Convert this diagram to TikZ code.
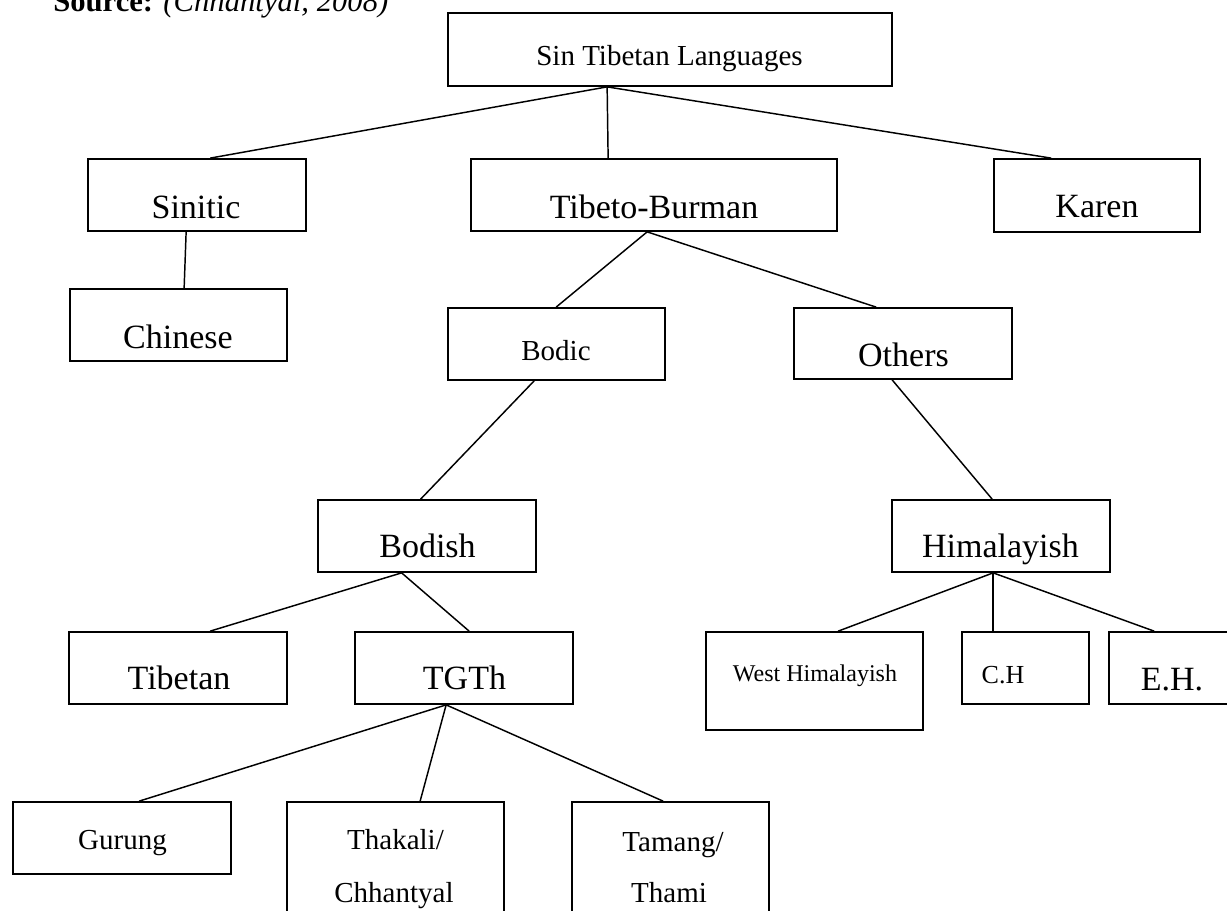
\documentclass[tikz,border=0pt]{standalone}
\usepackage{fontspec}
\setmainfont{Liberation Serif}
\usetikzlibrary{calc}

\tikzset{
  langbox/.style 2 args={draw, line width=1.3pt, inner sep=0pt,
    minimum width=#1*0.75pt, minimum height=#2*0.75pt},
  bigtext/.style={anchor=base, inner sep=0pt, font=\fontsize{25.5pt}{30pt}\selectfont},
  smalltext/.style={anchor=base, inner sep=0pt, font=\fontsize{21.75pt}{26pt}\selectfont},
  link/.style={line width=1.1pt}
}

\begin{document}
\begin{tikzpicture}[x=0.75pt,y=0.75pt,yscale=-1]
	\useasboundingbox (0,0) rectangle (1227,910);
	\clip (0,0) rectangle (1227,910);
	
	% Source line (cut at the top)
	\node [anchor=base west, inner sep=0pt, font=\fontsize{23pt}{27pt}\selectfont] (src) at (53,12) {\textbf{Source:} \textit{(Chhantyal, 2008)}};
	
	% Boxes
	\node [langbox={444}{73}] (sin) at (670,49.5) {};
	\node [langbox={218}{72}] (sinitic) at (197,195) {};
	\node [langbox={366}{72}] (tb) at (654,195) {};
	\node [langbox={206}{73}] (karen) at (1097,195.5) {};
	\node [langbox={217}{72}] (chinese) at (178.5,325) {};
	\node [langbox={217}{72}] (bodic) at (556.5,344) {};
	\node [langbox={218}{71}] (others) at (903,343.5) {};
	\node [langbox={218}{72}] (bodish) at (427,536) {};
	\node [langbox={218}{72}] (himal) at (1001,536) {};
	\node [langbox={218}{72}] (tibetan) at (178,668) {};
	\node [langbox={218}{72}] (tgth) at (464,668) {};
	\node [langbox={217}{98}] (westh) at (814.5,681) {};
	\node [langbox={127}{72}] (ch) at (1025.5,668) {};
	\node [langbox={127}{72}] (eh) at (1172.5,668) {};
	\node [langbox={218}{72}] (gurung) at (122,838) {};
	\node [langbox={217}{120}] (thakali) at (395.5,862) {};
	\node [langbox={197}{120}] (tamang) at (670.5,862) {};
	
	% Text Nodes
	\node [smalltext] (sinT) at (669.5,65) {Sin Tibetan Languages};
	\node [bigtext] (siniticT) at (196,218) {Sinitic};
	\node [bigtext] (tbT) at (654,218) {Tibeto-Burman};
	\node [bigtext] (karenT) at (1097,217) {Karen};
	\node [bigtext] (chineseT) at (178,348) {Chinese};
	\node [smalltext] (bodicT) at (556,360) {Bodic};
	\node [bigtext] (othersT) at (903.5,366) {Others};
	\node [bigtext] (bodishT) at (427.5,557) {Bodish};
	\node [bigtext] (himalT) at (1000.5,557) {Himalayish};
	\node [bigtext] (tibetanT) at (179,689) {Tibetan};
	\node [bigtext] (tgthT) at (464.5,689) {TGTh};
	\node [anchor=base, inner sep=0pt, font=\fontsize{18pt}{22pt}\selectfont] (westhT) at (815,681) {West Himalayish};
	\node [anchor=base, inner sep=0pt, font=\fontsize{19.5pt}{23pt}\selectfont] (chT) at (1003,683) {C.H};
	\node [bigtext] (ehT) at (1172,690) {E.H.};
	\node [smalltext] (gurungT) at (122.5,849) {Gurung};
	\node [smalltext] (thakaliT) at (395.5,849) {Thakali/};
	\node [smalltext] (chhantyalT) at (394,902) {Chhantyal};
	\node [smalltext] (tamangT) at (673,851) {Tamang/};
	\node [smalltext] (thamiT) at (669,902) {Thami};
	
	% Lines
	\draw [link] ($(sin.south west)+(160,0)$) -- ($(sinitic.north west)+(123,0)$);
	\draw [link] ($(sin.south west)+(160,0)$) -- ($(tb.north west)+(138,0)$);
	\draw [link] ($(sin.south west)+(160,0)$) -- ($(karen.north west)+(58,0)$);
	\draw [link] ($(sinitic.south west)+(99,0)$) -- ($(chinese.north west)+(115,0)$);
	\draw [link] ($(tb.south west)+(177,0)$) -- ($(bodic.north west)+(109,0)$);
	\draw [link] ($(tb.south west)+(177,0)$) -- ($(others.north west)+(83,0)$);
	\draw [link] ($(bodic.south west)+(87,0)$) -- ($(bodish.north west)+(103.5,0)$);
	\draw [link] ($(others.south west)+(99,0)$) -- ($(himal.north west)+(101,0)$);
	\draw [link] ($(bodish.south west)+(84.5,0)$) -- ($(tibetan.north west)+(142,0)$);
	\draw [link] ($(bodish.south west)+(84.5,0)$) -- ($(tgth.north west)+(115,0)$);
	\draw [link] ($(himal.south west)+(102,0)$) -- ($(westh.north west)+(133,0)$);
	\draw [link] ($(himal.south west)+(102,0)$) -- ($(ch.north west)+(32,0)$);
	\draw [link] ($(himal.south west)+(102,0)$) -- ($(eh.north west)+(46,0)$);
	\draw [link] ($(tgth.south west)+(92,0)$) -- ($(gurung.north west)+(127,0)$);
	\draw [link] ($(tgth.south west)+(92,0)$) -- ($(thakali.north west)+(134,0)$);
	\draw [link] ($(tgth.south west)+(92,0)$) -- ($(tamang.north west)+(92,0)$);
	
\end{tikzpicture}
\end{document}
